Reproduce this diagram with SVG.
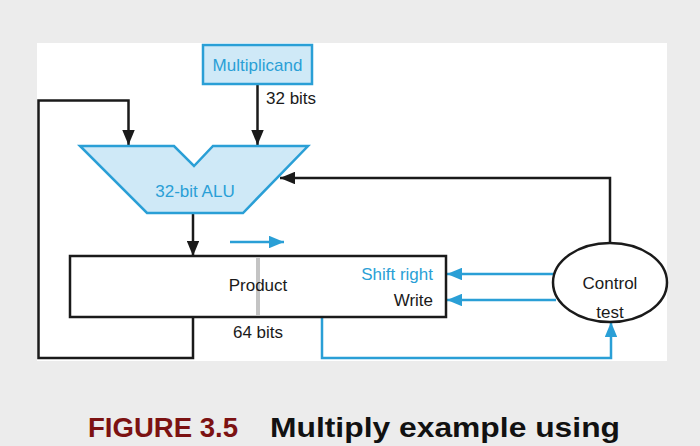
<svg xmlns="http://www.w3.org/2000/svg" width="700" height="446" viewBox="0 0 700 446">
<style>
.t{font-family:"Liberation Sans",Arial,sans-serif;font-size:17px}
.blk{fill:none;stroke:#1a1a1a;stroke-width:2.5}
.blu{fill:none;stroke:#2a9fd6;stroke-width:2.5}
.bt{fill:#2a9fd6}
.kt{fill:#1a1a1a}
</style>
<defs>
<marker id="ak" viewBox="0 0 12 10" refX="12" refY="5" markerWidth="6" markerHeight="5" markerUnits="strokeWidth" orient="auto"><path d="M0,0 L12,5 L0,10 z" fill="#1a1a1a"/></marker>
<marker id="ab" viewBox="0 0 12 10" refX="12" refY="5" markerWidth="6" markerHeight="5" markerUnits="strokeWidth" orient="auto"><path d="M0,0 L12,5 L0,10 z" fill="#2a9fd6"/></marker>
</defs>
<rect x="0" y="0" width="700" height="446" fill="#ececec"/>
<rect x="37" y="43" width="630" height="318" fill="#ffffff"/>
<g id="connectors">
<path class="blk" d="M257.5,85 V145" marker-end="url(#ak)"/>
<path class="blk" d="M193,317 V358 H38.5 V100.5 H128.5 V145" marker-end="url(#ak)"/>
<path class="blk" d="M193,213 V256" marker-end="url(#ak)"/>
<path class="blk" d="M610,243 V178 H280" marker-end="url(#ak)"/>
<path class="blu" d="M230,242 H284" marker-end="url(#ab)"/>
<path class="blu" d="M556,274 H447" marker-end="url(#ab)"/>
<path class="blu" d="M556,300 H447" marker-end="url(#ab)"/>
<path class="blu" d="M322,317 V358 H611 V322" marker-end="url(#ab)"/>
</g>
<g id="multiplicand">
<rect x="203" y="45" width="109" height="39" fill="#cfe9f7" stroke="#2a9fd6" stroke-width="2.5"/>
<text class="t bt" x="257.5" y="71" text-anchor="middle">Multiplicand</text>
</g>
<text class="t kt" x="266" y="104">32 bits</text>
<g id="alu">
<path d="M80,146 H174 L194,166 L213,146 H308 L243,213 H147 Z" fill="#cfe9f7" stroke="#2a9fd6" stroke-width="2.5" stroke-linejoin="miter"/>
<text class="t bt" x="195" y="197" text-anchor="middle">32-bit ALU</text>
</g>
<g id="product">
<rect x="70" y="256" width="376" height="61" fill="#ffffff" stroke="#1a1a1a" stroke-width="2.5"/>
<rect x="256" y="257" width="4" height="59" fill="#c4c4c4"/>
<text class="t kt" x="258" y="291" text-anchor="middle">Product</text>
<text class="t bt" x="433" y="280" text-anchor="end">Shift right</text>
<text class="t kt" x="433" y="306" text-anchor="end">Write</text>
</g>
<text class="t kt" x="258" y="338" text-anchor="middle">64 bits</text>
<g id="control">
<ellipse cx="610" cy="282.5" rx="57" ry="39.5" fill="#ffffff" stroke="#1a1a1a" stroke-width="2.5"/>
<text class="t kt" x="610" y="289" text-anchor="middle">Control</text>
<text class="t kt" x="610" y="318" text-anchor="middle">test</text>
</g>
<g id="caption">
<text x="88" y="437" font-family="'Liberation Sans',Arial,sans-serif" font-size="27" font-weight="bold" fill="#7c1212" textLength="150" lengthAdjust="spacingAndGlyphs">FIGURE 3.5</text>
<text x="270" y="437" font-family="'Liberation Sans',Arial,sans-serif" font-size="27" font-weight="bold" fill="#111111" textLength="350" lengthAdjust="spacingAndGlyphs">Multiply example using</text>
</g>
</svg>
